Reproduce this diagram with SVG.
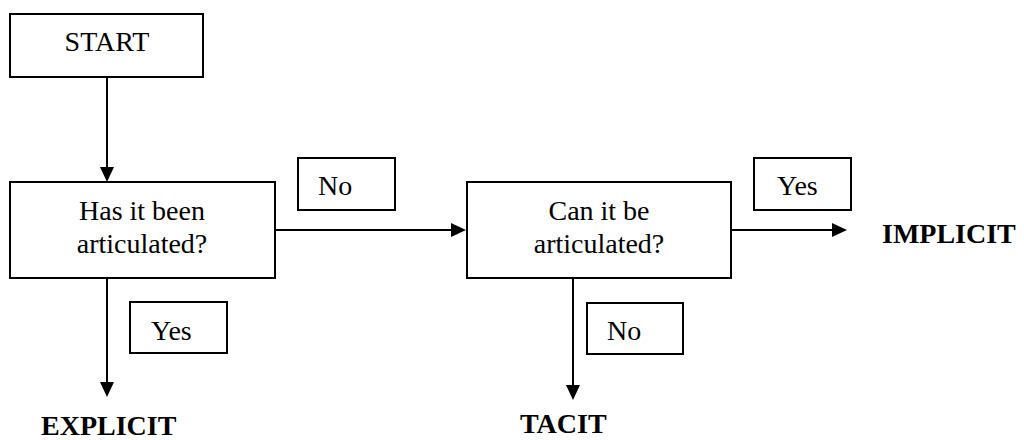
<svg xmlns="http://www.w3.org/2000/svg" width="1024" height="440" viewBox="0 0 1024 440">
  <defs>
    <!-- filled arrowhead; line end sits inside the head, tip lies 10px beyond -->
    <marker id="arrow" markerUnits="userSpaceOnUse" markerWidth="16" markerHeight="16" refX="5" refY="7" orient="auto">
      <path d="M0,0 L15,7 L0,14 z" fill="#000"/>
    </marker>
    <style>
      .box { fill: #fff; stroke: #000; stroke-width: 2; }
      text { font-family: 'Times New Roman', 'Liberation Serif', Times, Tinos, 'Noto Serif', 'DejaVu Serif', FreeSerif, serif; font-size: 28px; fill: #000; }
      .mid { text-anchor: middle; }
      .out { font-weight: bold; }
      .conn { stroke: #000; stroke-width: 2; fill: none; marker-end: url(#arrow); }
    </style>
  </defs>
  <rect width="1024" height="440" fill="#fff"/>

  <!-- connectors -->
  <g id="connectors">
    <line class="conn" x1="107" y1="77" x2="107" y2="172"/>
    <line class="conn" x1="275" y1="230" x2="456" y2="230"/>
    <line class="conn" x1="107" y1="278" x2="107" y2="387"/>
    <line class="conn" x1="731" y1="230" x2="837" y2="230"/>
    <line class="conn" x1="573" y1="278" x2="573" y2="390"/>
  </g>

  <g id="start">
    <rect class="box" x="10" y="14" width="193" height="63"/>
    <text class="mid" x="107" y="51">START</text>
  </g>

  <g id="articulated">
    <rect class="box" x="10" y="182" width="265" height="96"/>
    <text class="mid" x="142" y="220">Has it been</text>
    <text class="mid" x="142" y="253">articulated?</text>
  </g>

  <g id="can-articulate">
    <rect class="box" x="467" y="182" width="264" height="96"/>
    <text class="mid" x="599" y="220">Can it be</text>
    <text class="mid" x="599" y="253">articulated?</text>
  </g>

  <g id="label-no-1">
    <rect class="box" x="298" y="158" width="97" height="52"/>
    <text x="318" y="195">No</text>
  </g>

  <g id="label-yes-1">
    <rect class="box" x="130" y="302" width="97" height="51"/>
    <text x="151" y="340">Yes</text>
  </g>

  <g id="label-yes-2">
    <rect class="box" x="754" y="158" width="97" height="52"/>
    <text x="777" y="195">Yes</text>
  </g>

  <g id="label-no-2">
    <rect class="box" x="587" y="303" width="96" height="51"/>
    <text x="607" y="340">No</text>
  </g>

  <g id="explicit">
    <text class="out" x="41" y="435">EXPLICIT</text>
  </g>

  <g id="tacit">
    <text class="out" x="520" y="433">TACIT</text>
  </g>

  <g id="implicit">
    <text class="out" x="882" y="243">IMPLICIT</text>
  </g>
</svg>
